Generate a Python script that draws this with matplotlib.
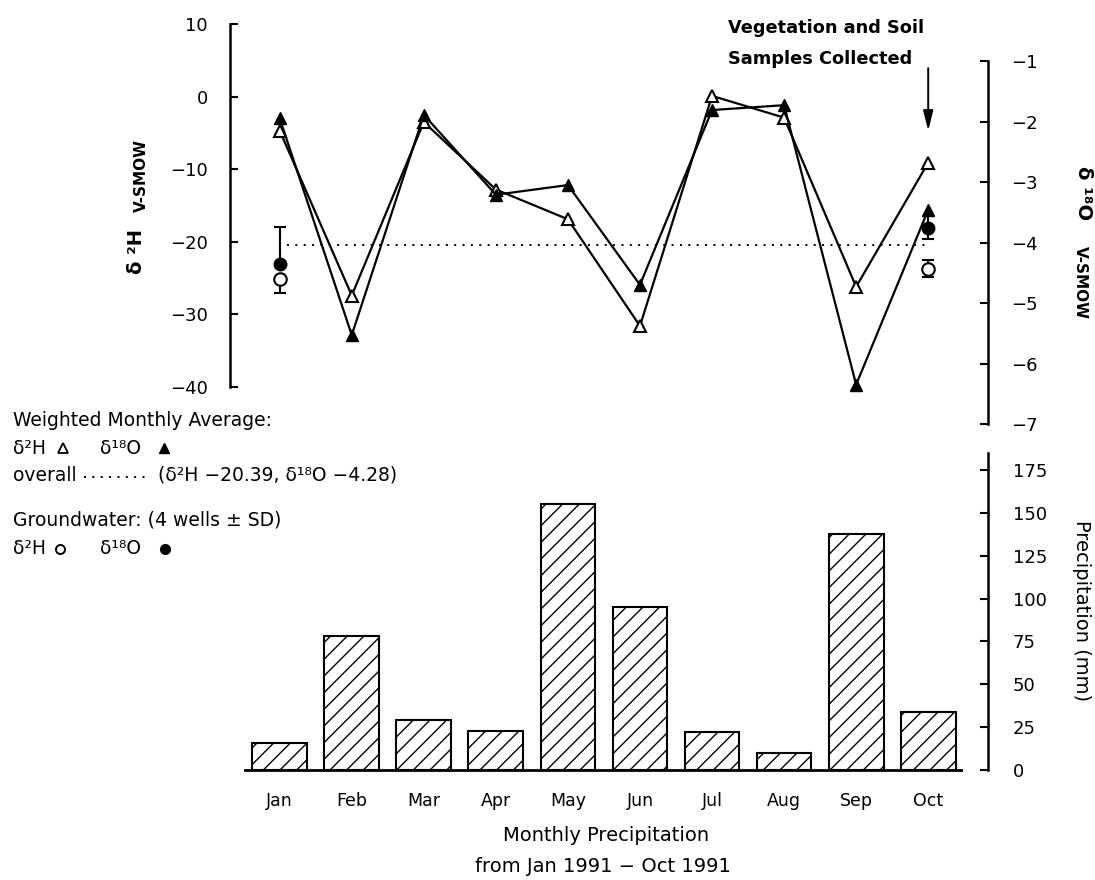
import matplotlib
matplotlib.use('Agg')
import matplotlib.pyplot as plt
from matplotlib.lines import Line2D
import numpy as np

plt.rcParams['font.family'] = ['DejaVu Sans']
plt.rcParams['hatch.linewidth'] = 1.0

# ---------------- data ----------------
months = ['Jan', 'Feb', 'Mar', 'Apr', 'May', 'Jun', 'Jul', 'Aug', 'Sep', 'Oct']
precip_mm = [16, 78, 29, 23, 155, 95, 22, 10, 138, 34]
d2h_weighted = [-4.7, -27.4, -3.5, -12.8, -16.9, -31.6, 0.1, -2.9, -26.2, -9.1]
d18o_weighted = [-1.95, -5.53, -1.89, -3.21, -3.05, -4.70, -1.81, -1.73, -6.35, -3.46]
overall_d2h = -20.39
overall_d18o = -4.28

gw_months = ['Jan', 'Oct']
gw_d2h = [-25.1, -23.7]
gw_d2h_sd_low = [1.9, 1.2]
gw_d2h_sd_high = [0.0, 1.2]
gw_d18o = [-4.36, -3.76]
gw_d18o_sd_low = [0.0, 0.19]
gw_d18o_sd_high = [0.61, 0.19]

h2_ticks = [-40, -30, -20, -10, 0, 10]
o18_ticks = [-7, -6, -5, -4, -3, -2, -1]
precip_ticks = [0, 25, 50, 75, 100, 125, 150, 175]

# ---------------- layout helpers ----------------
W, H = 1095, 880
fig = plt.figure(figsize=(W / 100, H / 100), dpi=100)


def fx(px):
    return px / W


def fy(py):
    return 1 - py / H


LW = 1.6
x = np.arange(len(months))
gw_x = [months.index(m) for m in gw_months]
xlim = (-0.69, 9.83)

# ---------------- top panel ----------------
ax_h = fig.add_axes([fx(230), fy(424), fx(988) - fx(230), fy(24) - fy(424)])
ax_o = ax_h.twinx()

ax_h.plot([0.1, x[-1]], [overall_d2h, overall_d2h], color='k', lw=1.4,
          ls=(0, (1, 3.3)), zorder=2)
ax_h.plot(x, d2h_weighted, color='k', lw=LW, marker='^', ms=9, mfc='white',
          mec='k', mew=1.5, zorder=3)
ax_o.plot(x, d18o_weighted, color='k', lw=LW, marker='^', ms=9, mfc='k',
          mec='k', mew=1.0, zorder=3)

ax_h.errorbar(gw_x, gw_d2h, yerr=[gw_d2h_sd_low, gw_d2h_sd_high], fmt='none',
              ecolor='k', elinewidth=1.5, capsize=4, capthick=1.5, zorder=4)
ax_h.plot(gw_x, gw_d2h, 'o', ms=9, mfc='white', mec='k', mew=1.5, zorder=5)
ax_o.errorbar(gw_x, gw_d18o, yerr=[gw_d18o_sd_low, gw_d18o_sd_high], fmt='none',
              ecolor='k', elinewidth=1.5, capsize=4, capthick=1.5, zorder=4)
ax_o.plot(gw_x, gw_d18o, 'o', ms=9, mfc='k', mec='k', zorder=5)

ax_h.set_xlim(*xlim)
ax_h.set_ylim(-45.1, 10)
ax_h.set_yticks(h2_ticks)
ax_h.tick_params(axis='y', direction='in', length=6, width=1.5, labelsize=13, pad=16)
ax_h.xaxis.set_visible(False)
for s in ['top', 'right', 'bottom']:
    ax_h.spines[s].set_visible(False)
ax_h.spines['left'].set_bounds(h2_ticks[0], h2_ticks[-1])
ax_h.spines['left'].set_linewidth(1.8)

ax_o.set_ylim(-7.0, -0.388)
ax_o.set_yticks(o18_ticks)
ax_o.tick_params(axis='y', direction='in', length=6, width=1.5, labelsize=13, pad=17)
ax_o.xaxis.set_visible(False)
for s in ['top', 'left', 'bottom']:
    ax_o.spines[s].set_visible(False)
ax_o.spines['right'].set_bounds(o18_ticks[0], o18_ticks[-1])
ax_o.spines['right'].set_linewidth(1.8)

# arrow and annotation
ax_h.annotate('', xy=(x[-1], d2h_weighted[-1]), xytext=(0, 68),
              textcoords='offset points',
              arrowprops=dict(arrowstyle='-|>,head_length=0.6,head_width=0.15',
                              color='k', lw=1.4, shrinkA=0, shrinkB=23,
                              mutation_scale=20))
fig.text(fx(728), fy(28), 'Vegetation and Soil', ha='left', va='center',
         fontsize=12.8, fontweight='bold')
fig.text(fx(728), fy(59), 'Samples Collected', ha='left', va='center',
         fontsize=12.8, fontweight='bold')

# y labels of top panel
fig.text(fx(136), fy(252), 'δ ²H', rotation=90, ha='center', va='center',
         fontsize=14, fontweight='bold')
fig.text(fx(141), fy(175), 'V-SMOW', rotation=90, ha='center', va='center',
         fontsize=11, fontweight='bold')
fig.text(fx(1083), fy(193), 'δ ¹⁸O', rotation=-90, ha='center', va='center',
         fontsize=14, fontweight='bold')
fig.text(fx(1080), fy(282), 'V-SMOW', rotation=-90, ha='center', va='center',
         fontsize=11, fontweight='bold')

# ---------------- bottom panel ----------------
ax_p = fig.add_axes([fx(230), fy(770), fx(988) - fx(230), fy(453) - fy(770)])
ax_p.bar(x, precip_mm, width=0.76, color='white', edgecolor='k', hatch='//',
         lw=1.5, zorder=2)
ax_p.set_xlim(*xlim)
ax_p.set_ylim(0, 185)
ax_p.yaxis.tick_right()
ax_p.set_yticks(precip_ticks)
ax_p.tick_params(axis='y', direction='in', length=6, width=1.5, labelsize=13, pad=18)
ax_p.set_xticks(x, months)
ax_p.tick_params(axis='x', length=0, pad=16, labelsize=12.5)
for s in ['top', 'left']:
    ax_p.spines[s].set_visible(False)
ax_p.spines['right'].set_bounds(0, 185)
ax_p.spines['right'].set_linewidth(1.8)
ax_p.spines['bottom'].set_bounds(-0.48, 9.455)
ax_p.spines['bottom'].set_linewidth(2.0)

fig.text(fx(1082), fy(611), 'Precipitation (mm)', rotation=-90, ha='center',
         va='center', fontsize=14)
fig.text(fx(606), fy(835), 'Monthly Precipitation', ha='center', va='center',
         fontsize=14)
fig.text(fx(603), fy(866), 'from Jan 1991 \u2212 Oct 1991', ha='center',
         va='center', fontsize=14)

# ---------------- legend block (left) ----------------
LF = 13.5
fig.text(fx(13), fy(420), 'Weighted Monthly Average:', ha='left', va='center', fontsize=LF)
fig.text(fx(13), fy(448), 'δ²H', ha='left', va='center', fontsize=LF)
fig.add_artist(Line2D([fx(63)], [fy(448)], transform=fig.transFigure, marker='^',
                      ms=7, mfc='white', mec='k', mew=1.3, ls='none'))
fig.text(fx(100), fy(448), 'δ¹⁸O', ha='left', va='center', fontsize=LF)
fig.add_artist(Line2D([fx(164)], [fy(448)], transform=fig.transFigure, marker='^',
                      ms=7, mfc='k', mec='k', ls='none'))
fig.text(fx(13), fy(475), 'overall', ha='left', va='center', fontsize=LF)
fig.add_artist(Line2D([fx(84), fx(150)], [fy(477), fy(477)], transform=fig.transFigure,
                      color='k', lw=1.4, ls=(0, (1, 3.3))))
fig.text(fx(158), fy(475), '(δ²H \u221220.39, δ¹⁸O \u22124.28)', ha='left',
         va='center', fontsize=LF)
fig.text(fx(13), fy(520), 'Groundwater: (4 wells ± SD)', ha='left', va='center', fontsize=LF)
fig.text(fx(13), fy(548), 'δ²H', ha='left', va='center', fontsize=LF)
fig.add_artist(Line2D([fx(60)], [fy(549)], transform=fig.transFigure, marker='o',
                      ms=6.5, mfc='white', mec='k', mew=1.4, ls='none'))
fig.text(fx(100), fy(548), 'δ¹⁸O', ha='left', va='center', fontsize=LF)
fig.add_artist(Line2D([fx(165)], [fy(549)], transform=fig.transFigure, marker='o',
                      ms=7, mfc='k', mec='k', ls='none'))

fig.savefig('out.png', dpi=100)
